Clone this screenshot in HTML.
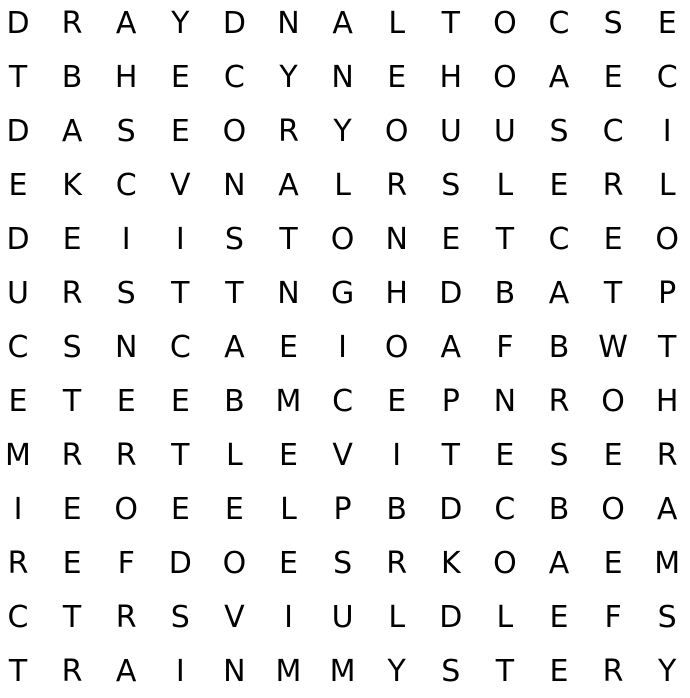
<!DOCTYPE html>
<html><head><meta charset="utf-8"><style>
html,body{margin:0;padding:0;background:#fff;}
svg{display:block;}
text{font-family:"DejaVu Sans","Liberation Sans",sans-serif;font-size:30px;fill:#000;}
</style></head><body>
<svg id="grid" width="690" height="698" viewBox="0 0 690 698"></svg>
<script>
const rows = [
"DRAYDNALTOCSE",
"TBHECYNEHOAEC",
"DASEORYOUUSCI",
"EKCVNALRSLERL",
"DEIISTONETCEO",
"URSTTNGHDBATP",
"CSNCAEIOAFBWT",
"ETEEBMCEPNROH",
"MRRTLEVITESER",
"IEOEELPBDCBOA",
"REFDOESRKOAEM",
"CTRSVIULDLEFS",
"TRAINMMYSTERY"
];
const svg = document.getElementById('grid');
rows.forEach((r, j) => {
  [...r].forEach((ch, i) => {
    const t = document.createElementNS('http://www.w3.org/2000/svg', 'text');
    t.setAttribute('x', 18 + i * 54.1);
    t.setAttribute('y', 33 + j * 54);
    t.setAttribute('text-anchor', 'middle');
    
    
    t.textContent = ch;
    svg.appendChild(t);
  });
});
</script>
</body></html>
